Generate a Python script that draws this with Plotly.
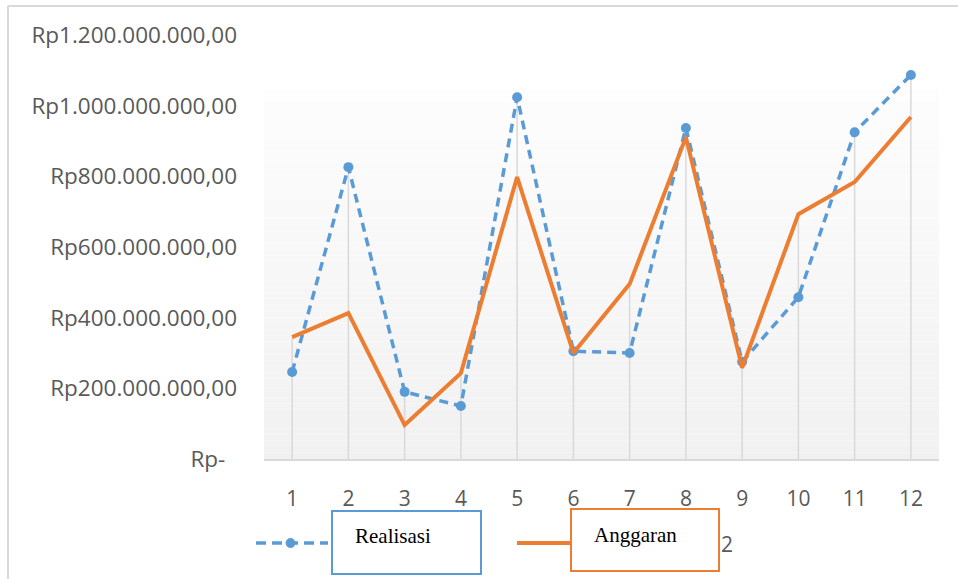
import plotly.graph_objects as go

# Monthly figures (Rupiah)
months = [1, 2, 3, 4, 5, 6, 7, 8, 9, 10, 11, 12]
realisasi = [246e6, 826e6, 190e6, 150e6, 1024e6, 305e6, 300e6, 937e6, 275e6, 458e6, 925e6, 1087e6]
anggaran = [345e6, 413e6, 96e6, 243e6, 798e6, 300e6, 495e6, 911e6, 258e6, 693e6, 784e6, 968e6]
y_ticks = [0, 200e6, 400e6, 600e6, 800e6, 1000e6, 1200e6]

BLUE = "#5b9bd5"
ORANGE = "#ed7d31"
GRAY_TXT = "#595959"
GRID = "#d9d9d9"


def rupiah(v):
    if v == 0:
        return "Rp-\u00a0\u00a0"
    s = f"{v:,.2f}"  # 1,200,000,000.00
    s = s.replace(",", "#").replace(".", ",").replace("#", ".")
    return "Rp" + s


# Plot-area geometry in pixels (used to place decorations in paper units)
W, H = 958, 579
L, R, T, B = 264, 939, 35, 459


def px(x):
    return (x - L) / (R - L)


def py(y):
    return (B - y) / (B - T)


fig = go.Figure()

# drop lines from the higher of the two values down to the axis
drop_x, drop_y = [], []
for m, a, b in zip(months, realisasi, anggaran):
    drop_x += [m, m, None]
    drop_y += [0, max(a, b), None]
fig.add_trace(go.Scatter(
    x=drop_x, y=drop_y, mode="lines", hoverinfo="skip",
    line=dict(color=GRID, width=1.5), showlegend=False,
))

fig.add_trace(go.Scatter(
    x=months, y=realisasi, name="Realisasi", mode="lines+markers",
    line=dict(color=BLUE, width=3.5, dash="9px,6px"),
    marker=dict(color=BLUE, size=10, symbol="circle"),
))
fig.add_trace(go.Scatter(
    x=months, y=anggaran, name="Anggaran", mode="lines",
    line=dict(color=ORANGE, width=4),
))

shapes = []
# soft vertical gradient behind the plot area
G_TOP = 89
n = 60
for i in range(n):
    y0 = G_TOP + (B - G_TOP) * i / n
    y1 = G_TOP + (B - G_TOP) * (i + 1) / n
    c = round(253 - 12 * (i + 0.5) / n)
    shapes.append(dict(type="rect", xref="paper", yref="paper",
                       x0=0, x1=1, y0=py(y1), y1=py(y0),
                       fillcolor=f"rgb({c},{c},{c})", line=dict(width=0),
                       layer="below"))

# outer chart border (left and top edges)
shapes.append(dict(type="line", xref="paper", yref="paper",
                   x0=px(8), x1=px(8), y0=py(6), y1=py(W + 50),
                   line=dict(color=GRID, width=2)))
shapes.append(dict(type="line", xref="paper", yref="paper",
                   x0=px(8), x1=px(W + 10), y0=py(6), y1=py(6),
                   line=dict(color=GRID, width=2)))

# legend: Realisasi sample + box
shapes.append(dict(type="line", xref="paper", yref="paper",
                   x0=px(256), x1=px(328), y0=py(543), y1=py(543),
                   line=dict(color=BLUE, width=3.5, dash="10px,6px")))
shapes.append(dict(type="circle", xref="paper", yref="paper",
                   x0=px(286), x1=px(295), y0=py(547.5), y1=py(538.5),
                   fillcolor=BLUE, line=dict(color=BLUE, width=1)))
shapes.append(dict(type="rect", xref="paper", yref="paper",
                   x0=px(332), x1=px(481), y0=py(574), y1=py(511),
                   fillcolor="white", line=dict(color=BLUE, width=2)))
# legend: Anggaran sample + box
shapes.append(dict(type="line", xref="paper", yref="paper",
                   x0=px(517), x1=px(571), y0=py(543), y1=py(543),
                   line=dict(color=ORANGE, width=4)))
shapes.append(dict(type="rect", xref="paper", yref="paper",
                   x0=px(571), x1=px(719), y0=py(571), y1=py(509),
                   fillcolor="white", line=dict(color=ORANGE, width=2)))

annotations = [
    dict(text="Realisasi", xref="paper", yref="paper", x=px(353), y=py(536),
         xanchor="left", yanchor="middle", showarrow=False,
         font=dict(family="Liberation Serif", size=21, color="black")),
    dict(text="Anggaran", xref="paper", yref="paper", x=px(592), y=py(535),
         xanchor="left", yanchor="middle", showarrow=False,
         font=dict(family="Liberation Serif", size=21, color="black")),
    dict(text="2", xref="paper", yref="paper", x=px(719), y=py(544),
         xanchor="left", yanchor="middle", showarrow=False,
         font=dict(family="Open Sans", size=21, color=GRAY_TXT)),
]

fig.update_layout(
    width=W, height=H,
    margin=dict(l=L, r=W - R, t=T, b=H - B, pad=0),
    paper_bgcolor="white",
    plot_bgcolor="rgba(0,0,0,0)",
    showlegend=False,
    shapes=shapes,
    annotations=annotations,
    font=dict(family="Open Sans", color=GRAY_TXT),
)
fig.update_xaxes(
    range=[0.5, 12.5], tickvals=months, ticktext=[str(m) for m in months],
    showgrid=False,
    showline=True, linecolor=GRID, linewidth=2,
    ticks="", ticklabelstandoff=20, zeroline=False,
    tickfont=dict(family="Open Sans", size=21, color=GRAY_TXT),
)
fig.update_yaxes(
    range=[0, 1200e6], tickvals=y_ticks, ticktext=[rupiah(v) for v in y_ticks],
    showgrid=False, zeroline=False, showline=False, ticks="",
    ticklabelstandoff=26,
    tickfont=dict(family="Open Sans", size=22.5, color=GRAY_TXT),
)

fig.write_html("out.html")
